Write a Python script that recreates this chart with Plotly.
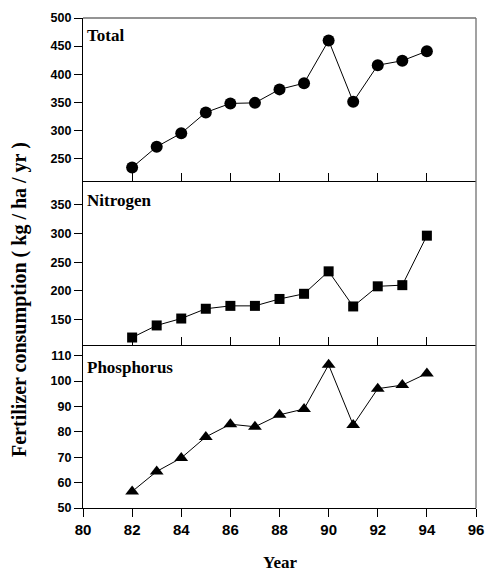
import plotly.graph_objects as go
from plotly.subplots import make_subplots

years = [82, 83, 84, 85, 86, 87, 88, 89, 90, 91, 92, 93, 94]
total = [234, 271, 295, 332, 348, 349, 373, 384, 460, 351, 416, 424, 441]
nitrogen = [119, 140, 152, 169, 174, 174, 186, 195, 234, 173, 208, 210, 296]
phosphorus = [56.5, 64.4, 69.7, 78, 83, 82, 86.7, 89, 106.4, 82.7, 97, 98.4, 103]

panel_names = ["Total", "Nitrogen", "Phosphorus"]
x_ticks = [80, 82, 84, 86, 88, 90, 92, 94, 96]
y_ticks_total = [250, 300, 350, 400, 450, 500]
y_ticks_nitrogen = [150, 200, 250, 300, 350]
y_ticks_phosphorus = [50, 60, 70, 80, 90, 100, 110]

W, H = 485, 571
L_px, R_px, T_px, B_px = 83, 476, 18, 508
b1, b2 = 181, 345
ml, mr, mt, mb = L_px, W - R_px, T_px, H - B_px
ph = B_px - T_px
pw = R_px - L_px
def frac(ypix):
    return (B_px - ypix) / ph

fig = make_subplots(rows=3, cols=1, shared_xaxes=False, vertical_spacing=0)

series = [(total, "circle", 12), (nitrogen, "square", 10), (phosphorus, "triangle-up", 12)]
for i, (vals, sym, sz) in enumerate(series):
    fig.add_trace(go.Scatter(x=years, y=vals, mode="lines+markers",
                             line=dict(color="black", width=1),
                             marker=dict(symbol=sym, size=sz, color="black"),
                             showlegend=False, cliponaxis=False), row=i + 1, col=1)

domains = [(frac(b1), 1.0), (frac(b2), frac(b1)), (0.0, frac(b2))]
yranges = [[210, 500], [106, 391], [50, 114.2]]
yticks = [y_ticks_total, y_ticks_nitrogen, y_ticks_phosphorus]
tickfont = dict(family="Liberation Sans, Arial", size=12.5, color="black", weight="bold")

for i in range(3):
    xa = "xaxis" if i == 0 else f"xaxis{i+1}"
    ya = "yaxis" if i == 0 else f"yaxis{i+1}"
    bottom = (i == 2)
    fig.layout[xa].update(range=[80, 96], domain=[0, 1], automargin=False,
                          tickvals=x_ticks if bottom else x_ticks[1:-1],
                          ticks="outside" if bottom else "inside",
                          ticklen=8, tickwidth=1, tickcolor="black",
                          showticklabels=bottom, ticklabeloverflow="allow",
                          tickfont=dict(family="Liberation Sans, Arial", size=15, color="black", weight="bold"),
                          showline=True, linecolor="black", linewidth=1.3,
                          showgrid=False, zeroline=False, mirror=False)
    fig.layout[ya].update(range=yranges[i], domain=list(domains[i]), automargin=False,
                          tickvals=yticks[i], ticks="outside", ticklen=8,
                          tickwidth=1, tickcolor="black", tickfont=tickfont,
                          showline=True, linecolor="black", linewidth=1.3,
                          showgrid=False, zeroline=False, mirror=False)

fig.add_shape(type="line", xref="paper", yref="paper", x0=0, x1=1, y0=1, y1=1,
              line=dict(color="#707070", width=1.3))
fig.add_shape(type="line", xref="paper", yref="paper", x0=1, x1=1, y0=0, y1=1,
              line=dict(color="#707070", width=1.3))

label_font = dict(family="Liberation Serif, Times New Roman", size=17, color="black", weight="bold")
label_tops = [24, 189, 356]
for name, ytop in zip(panel_names, label_tops):
    fig.add_annotation(text=name, xref="paper", yref="paper", x=0, xshift=2,
                       y=frac(ytop), xanchor="left", yanchor="top",
                       showarrow=False, font=label_font)

fig.add_annotation(text="Fertilizer consumption ( kg / ha / yr )", xref="paper", yref="paper",
                   x=(19 - L_px) / pw, y=frac(300), xanchor="center", yanchor="middle",
                   textangle=-90, showarrow=False,
                   font=dict(family="Liberation Serif, Times New Roman", size=20, color="black", weight="bold"))
fig.add_annotation(text="Year", xref="paper", yref="paper",
                   x=0.5, y=frac(562), xanchor="center", yanchor="middle",
                   showarrow=False,
                   font=dict(family="Liberation Serif, Times New Roman", size=17, color="black", weight="bold"))

fig.update_layout(template="none", width=W, height=H, margin=dict(l=ml, r=mr, t=mt, b=mb),
                  plot_bgcolor="white", paper_bgcolor="white")

fig.write_html("out.html", config={"displayModeBar": False},
               post_script="document.body.style.margin='0';document.body.style.overflow='hidden';")
